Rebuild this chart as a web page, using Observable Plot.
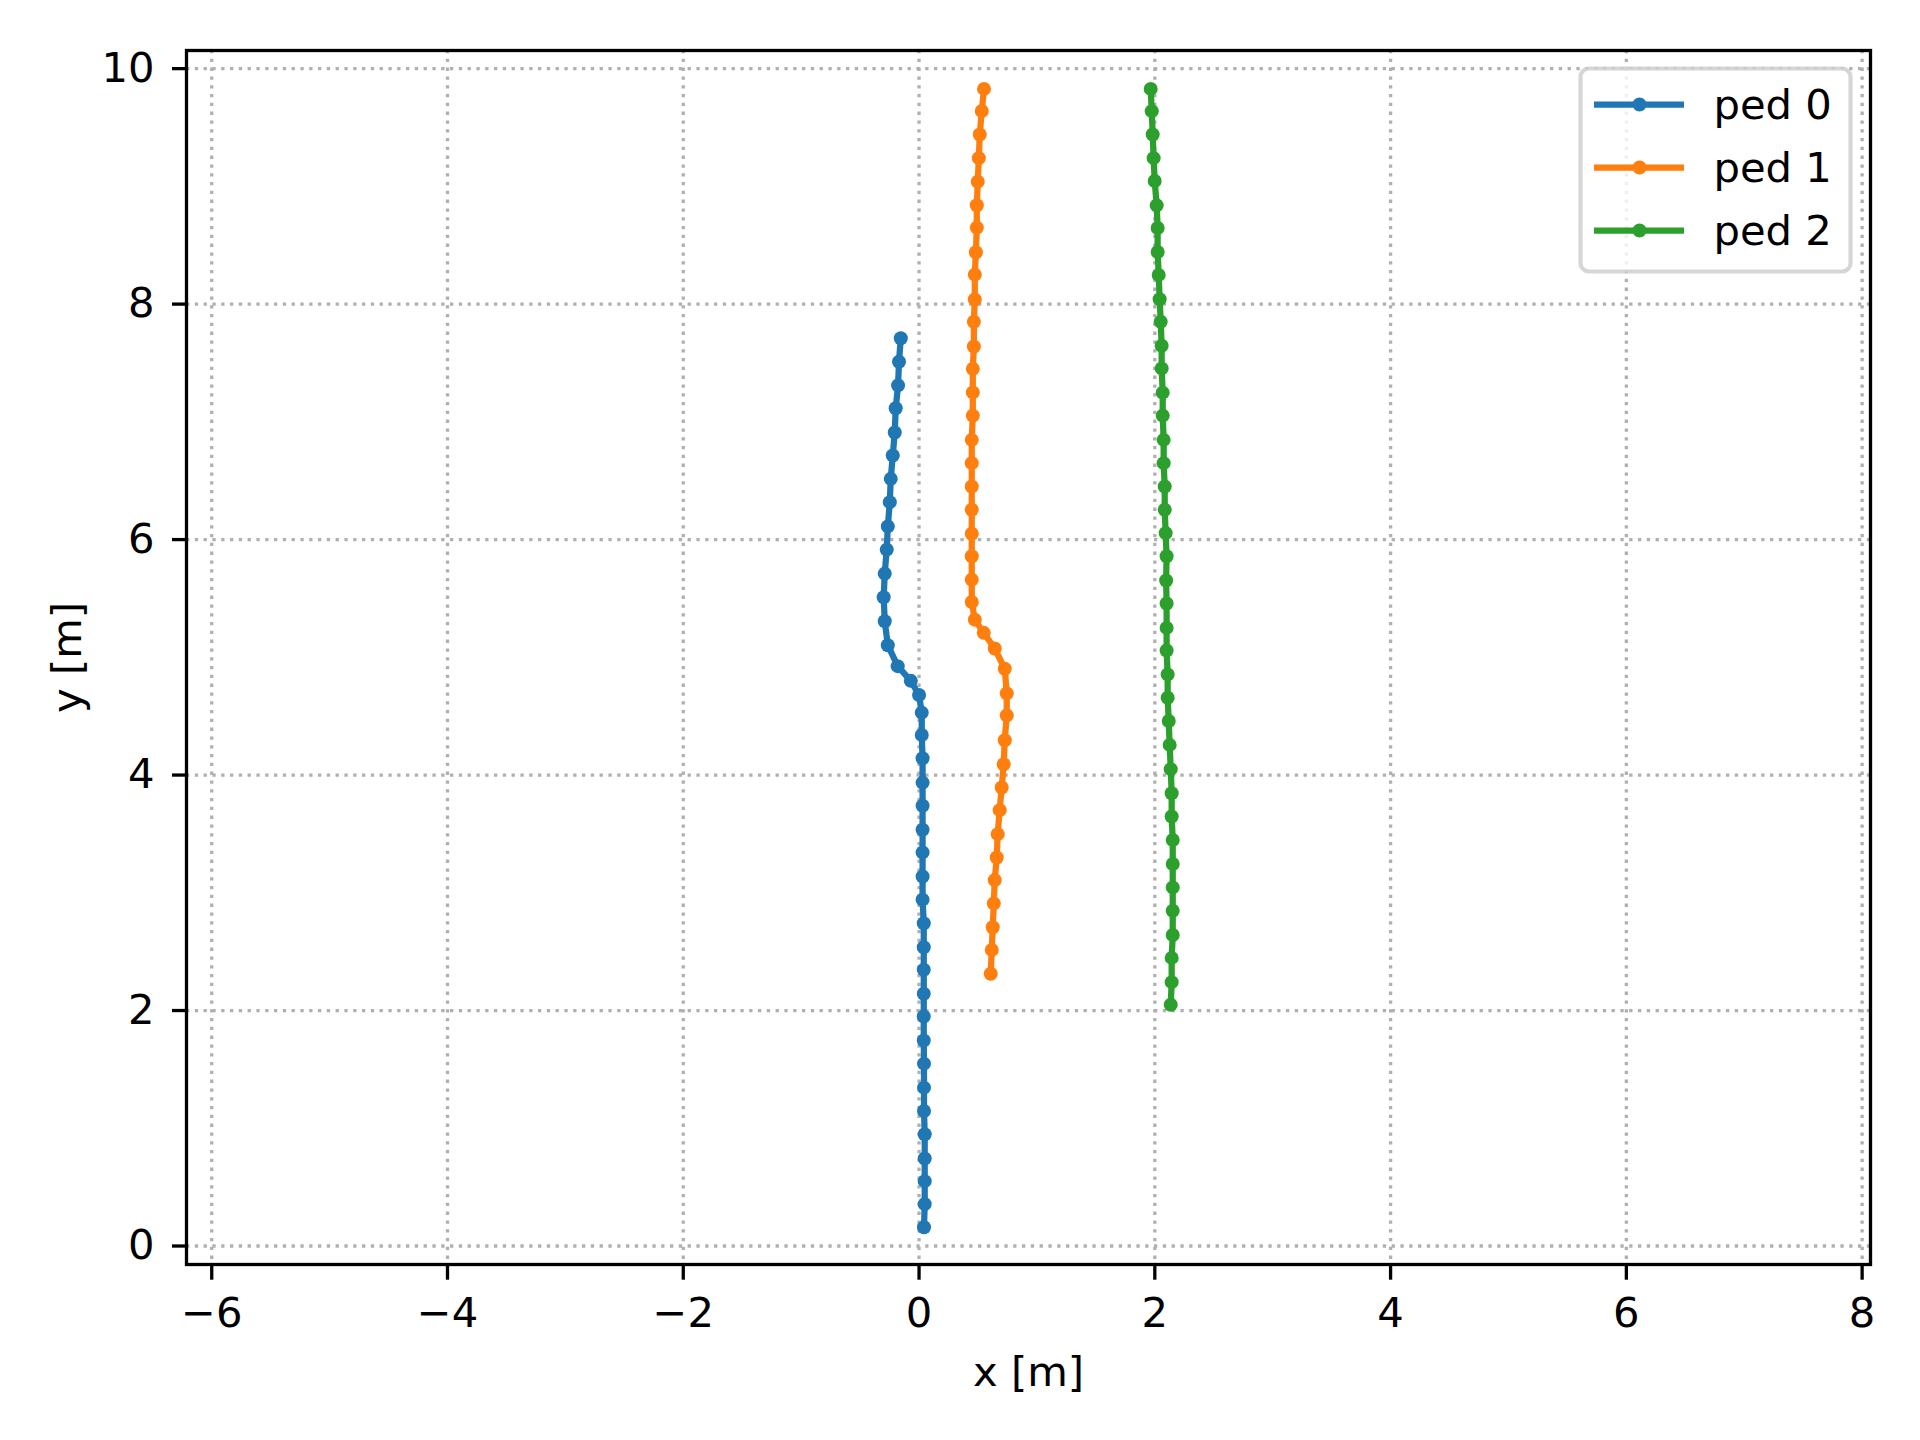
<!DOCTYPE html>
<html><head><meta charset="utf-8">
<script src="https://cdn.jsdelivr.net/npm/d3@7"></script>
<script src="https://cdn.jsdelivr.net/npm/@observablehq/plot@0.6"></script>
<style>
html,body{margin:0;padding:0;background:#fff;overflow:hidden;}
#wrap{position:relative;width:1920px;height:1440px;}
#wrap svg{position:absolute;}
</style></head><body><div id="wrap"></div>
<script>
// ---- data ----
const names = ["ped 0", "ped 1", "ped 2"];
const colors = ["#1f77b4", "#ff7f0e", "#2ca02c"];
const xTicks = [-6, -4, -2, 0, 2, 4, 6, 8];
const yTicks = [0, 2, 4, 6, 8, 10];

const ped0x = [0.042,0.048,0.048,0.048,0.048,0.042,0.042,0.042,0.04,0.04,0.04,0.04,0.04,0.04,0.03,0.03,0.03,0.03,0.03,0.03,0.03,0.023,0.023,0.0,-0.07,-0.181,-0.265,-0.291,-0.3,-0.291,-0.274,-0.265,-0.248,-0.24,-0.223,-0.206,-0.198,-0.178,-0.17,-0.155];
const ped0y = [0.159,0.356,0.551,0.743,0.949,1.147,1.345,1.549,1.746,1.95,2.142,2.346,2.537,2.741,2.942,3.139,3.343,3.535,3.739,3.936,4.143,4.34,4.53,4.68,4.80,4.925,5.103,5.307,5.51,5.711,5.915,6.112,6.318,6.516,6.714,6.91,7.115,7.31,7.51,7.71];

const ped1x = [0.608,0.617,0.625,0.634,0.642,0.659,0.667,0.684,0.701,0.718,0.727,0.744,0.744,0.727,0.642,0.549,0.473,0.447,0.447,0.447,0.447,0.447,0.447,0.447,0.447,0.456,0.456,0.456,0.465,0.465,0.473,0.473,0.482,0.49,0.49,0.498,0.507,0.515,0.532,0.551];
const ped1y = [2.312,2.515,2.707,2.91,3.108,3.30,3.498,3.702,3.894,4.092,4.296,4.507,4.694,4.903,5.075,5.208,5.32,5.47,5.66,5.858,6.05,6.254,6.451,6.649,6.847,7.053,7.25,7.45,7.64,7.85,8.04,8.25,8.44,8.65,8.84,9.04,9.24,9.44,9.64,9.828];

const ped2x = [2.135,2.143,2.143,2.152,2.152,2.152,2.152,2.152,2.143,2.143,2.135,2.126,2.118,2.109,2.109,2.10,2.10,2.10,2.096,2.10,2.092,2.084,2.084,2.075,2.075,2.067,2.067,2.058,2.058,2.05,2.041,2.033,2.024,2.024,2.016,1.999,1.99,1.982,1.974,1.965];
const ped2y = [2.049,2.241,2.447,2.642,2.848,3.046,3.244,3.448,3.648,3.846,4.05,4.256,4.459,4.657,4.855,5.058,5.25,5.457,5.652,5.858,6.055,6.254,6.451,6.649,6.847,7.053,7.248,7.454,7.646,7.85,8.042,8.248,8.443,8.647,8.839,9.045,9.24,9.441,9.639,9.828];

// ---- build ----
const seriesX = [ped0x, ped1x, ped2x];
const seriesY = [ped0y, ped1y, ped2y];
const series = names.map((name, i) => ({
  name, color: colors[i],
  rows: seriesX[i].map((x, j) => ({x, y: seriesY[i][j], ped: name}))
}));

const FONT = "DejaVu Sans";
const FS = 41.7;
const fmt = d => (d < 0 ? "\u2212" + (-d) : String(d));
const gridStyle = {stroke: "#b0b0b0", strokeOpacity: 1, strokeWidth: 3.3, strokeDasharray: "3.3,5.5"};

const main = Plot.plot({
  width: 1920, height: 1440,
  marginLeft: 186, marginRight: 50, marginTop: 50, marginBottom: 176,
  x: {domain: [-6.214, 8.071]},
  y: {domain: [-0.157, 10.154]},
  style: {fontFamily: FONT, background: "white", color: "black"},
  marks: [
    Plot.gridX(xTicks, gridStyle),
    Plot.gridY(yTicks, gridStyle),
    ...series.flatMap(s => [
      Plot.line(s.rows, {x: "x", y: "y", stroke: s.color, strokeWidth: 6.25}),
      Plot.dot(s.rows, {x: "x", y: "y", r: 7, fill: s.color})
    ]),
    Plot.axisX(xTicks, {tickSize: 15.7, tickPadding: 17.5, strokeWidth: 3.3, fontSize: FS, tickFormat: fmt, label: null}),
    Plot.axisY(yTicks, {tickSize: 14, tickPadding: 18, strokeWidth: 3.3, fontSize: FS, tickFormat: fmt, label: null}),
    Plot.text(["x [m]"], {text: d => d, frameAnchor: "bottom", textAnchor: "middle", dy: 121, lineAnchor: "bottom", fontSize: FS}),
    Plot.text(["y [m]"], {text: d => d, frameAnchor: "left", textAnchor: "middle", dx: -106, rotate: -90, lineAnchor: "bottom", fontSize: FS}),
    Plot.frame({stroke: "black", strokeWidth: 3.3})
  ]
});

const leg = Plot.plot({
  width: 280, height: 213, margin: 5,
  x: {domain: [0, 1], range: [19, 109], axis: null},
  y: {type: "point", domain: names, range: [40.3, 167], padding: 0, axis: null},
  color: {domain: names, range: colors},
  style: {fontFamily: FONT, background: "none", color: "black"},
  marks: [
    Plot.frame({fill: "white", fillOpacity: 0.8, stroke: "#cccccc", strokeOpacity: 0.8, strokeWidth: 4.17, rx: 8.3}),
    Plot.ruleY(names, {y: d => d, x1: 0, x2: 1, stroke: d => d, strokeWidth: 6.25}),
    Plot.dot(names, {x: 0.5, y: d => d, r: 7, fill: d => d}),
    Plot.text(names, {x: 1, y: d => d, text: d => d, dx: 29, dy: 1.5, textAnchor: "start", fontSize: FS})
  ]
});

const wrap = document.getElementById("wrap");
main.style.left = "0px"; main.style.top = "0px";
leg.style.left = "1575px"; leg.style.top = "63px";
wrap.append(main);
wrap.append(leg);
</script></body></html>
